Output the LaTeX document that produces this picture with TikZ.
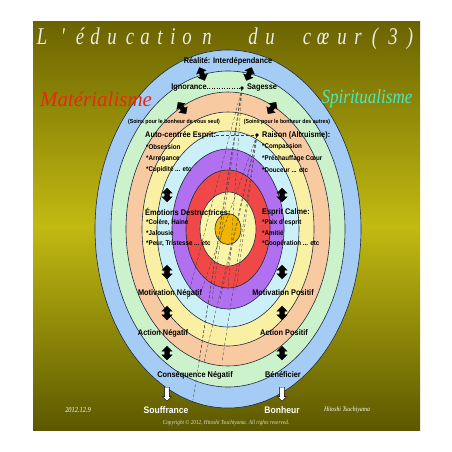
\documentclass[tikz,border=0pt]{standalone}
\usepackage{fontspec}
\setsansfont{Liberation Sans}[FakeStretch=0.9]
\newfontfamily\titlefont{Liberation Serif}[FakeStretch=0.78]
\newfontfamily\corsfont{Liberation Serif}[FakeStretch=0.85]
\newfontfamily\serifit{Liberation Serif}
\usetikzlibrary{shapes.arrows}
\definecolor{olivedark}{HTML}{6B6300}
\definecolor{olivemid}{HTML}{C2BA12}
\definecolor{oliveend}{HTML}{5C5800}
\definecolor{ringblue}{HTML}{A4CCF4}
\definecolor{ringgreen}{HTML}{CCF2CC}
\definecolor{ringpeach}{HTML}{F8CAA2}
\definecolor{ringyellow}{HTML}{FAF0A4}
\definecolor{ringcyan}{HTML}{CCF0F8}
\definecolor{ringpurple}{HTML}{B070F0}
\definecolor{ringred}{HTML}{F04848}
\definecolor{ringcream}{HTML}{FAF4A6}
\definecolor{ringgold}{HTML}{F2B400}
\definecolor{ringline}{HTML}{1C2C44}
\definecolor{matred}{HTML}{E82810}
\definecolor{spiaqua}{HTML}{4CE6C0}
\tikzset{
  ring/.style={draw=ringline, line width=0.6pt},
  stage/.style={font=\sffamily\bfseries\fontsize{8.2}{9}\selectfont, inner sep=0pt},
  item/.style={font=\sffamily\bfseries\fontsize{6.9}{8}\selectfont, inner sep=0pt, anchor=west},
  care/.style={font=\sffamily\bfseries\fontsize{5.8}{7}\selectfont, inner sep=0pt},
  goal/.style={font=\sffamily\bfseries\fontsize{9.5}{11}\selectfont, text=white, inner sep=0pt},
  updown/.style={double arrow, fill=black, draw=black, line width=0.3pt, minimum height=14pt,
    inner sep=2.2pt, double arrow head extend=2.8pt, rotate=90},
  outcome/.style={single arrow, fill=white, draw=black, line width=0.4pt, minimum height=14pt,
    inner sep=2.2pt, single arrow head extend=2.2pt, rotate=-90},
  beam/.style={densely dashed, line width=0.35pt, draw=black!75},
  sign/.style={font=\corsfont\itshape\fontsize{7.5}{9}\selectfont, text=white, inner sep=0pt},
  titlechar/.style={font=\titlefont\itshape\fontsize{24}{26}\selectfont, text=white!92!black, inner sep=0pt, anchor=base}
}
\begin{document}
\begin{tikzpicture}[x=1pt,y=-1pt]
  \useasboundingbox (0,0) rectangle (452,452);
  \fill[white] (0,0) rectangle (452,452);
  \shade[top color=olivedark, bottom color=oliveend, middle color=olivemid] (33,22) rectangle (420,430);

  % rings of the heart
  \foreach \rx/\ry/\col in {133/179/ringblue, 117/158/ringgreen, 102/137/ringpeach, 86/117/ringyellow,
      71/98/ringcyan, 56/80/ringpurple, 42/59/ringred, 28/37/ringcream, 13/15.5/ringgold}
    \filldraw[ring, fill=\col] (228,229) ellipse [x radius=\rx pt, y radius=\ry pt];

  % title
  \foreach \ch/\xx [count=\k] in {{L}/42, {'}/63, {é}/80, {d}/95, {u}/112, {c}/130, {a}/145, {t}/160,
      {i}/173, {o}/187, {n}/207, {d}/253, {u}/270, {c}/307, {œ}/323, {u}/342, {r}/358, {(}/375, {3}/393, {)}/410}
    \node[titlechar] (t\k) at (\xx,45) {\ch};

  \node[font=\serifit\itshape\fontsize{21}{24}\selectfont, text=matred, inner sep=0pt] (mat) at (96,99) {Matérialisme};
  \node[font=\corsfont\itshape\fontsize{20}{24}\selectfont, text=spiaqua, inner sep=0pt] (spi) at (367,99) {Spiritualisme};

  \node[stage] (real) at (228,61) {Réalité: Interdépendance};
  \node[stage] (ign) at (189,88) {Ignorance};
  \node[stage] (sage) at (262,88) {Sagesse};
  \node[care] (selfcare) at (174,122) {(Soins pour le bonheur de vous seul)};
  \node[care] (othercare) at (287,122) {(Soins pour le bonheur des autres)};

  \node[stage, anchor=west] (auto) at (145,135) {Auto-centrée Esprit:};
  \node[item] (ob) at (146,147) {*Obsession};
  \node[item] (ar) at (146,158.5) {*Arrogance};
  \node[item] (cu) at (146,170) {*Cupidité ... etc};
  \node[stage, anchor=west] (rai) at (262,135) {Raison (Altruisme):};
  \node[item] (co) at (262,147) {*Compassion};
  \node[item] (pr) at (262,158.5) {*Préchauffage Cœur};
  \node[item] (do) at (262,170) {*Douceur ... etc};

  \node[stage, anchor=west] (emo) at (145,212) {Émotions Destructrices:};
  \node[item] (ch) at (146,223) {*Colère, Haine};
  \node[item] (ja) at (146,233.5) {*Jalousie};
  \node[item] (pe) at (146,244) {*Peur, Tristesse ... etc};
  \node[stage, anchor=west] (calm) at (262,212) {Esprit Calme:};
  \node[item] (pa) at (262,223) {*Paix d'esprit};
  \node[item] (am) at (262,233.5) {*Amitié};
  \node[item] (cp) at (262,244) {*Coopération ... etc};

  \node[stage] (motn) at (170,293) {Motivation Négatif};
  \node[stage] (motp) at (283,293) {Motivation Positif};
  \node[stage] (actn) at (163,333) {Action Négatif};
  \node[stage] (actp) at (284,333) {Action Positif};
  \node[stage] (cons) at (195,375) {Conséquence Négatif};
  \node[stage] (bene) at (283,375) {Bénéficier};
  \node[goal] (souf) at (166,410) {Souffrance};
  \node[goal] (bonh) at (282,410) {Bonheur};

  \node[sign] (date) at (78,410) {2012.12.9};
  \node[sign, font=\corsfont\itshape\fontsize{6.8}{8}\selectfont] (auth) at (347,410) {Hitoshi Tsuchiyama};
  \node[sign, font=\corsfont\itshape\fontsize{6.2}{8}\selectfont, text=white!85!black] (copy) at (226,423)
    {Copyright © 2012, Hitoshi Tsuchiyama. All rights reserved.};

  % light of wisdom
  \coordinate (sagdot) at (242,88);
  \coordinate (raidot) at (257,135);
  \draw[dotted, line width=0.5pt] (ign.east) -- (sagdot);
  \draw[beam] (auto.east) -- (raidot);
  \foreach \ex/\ey in {193/400, 199/362, 187/300, 212/300, 228/290}
    \draw[beam] (sagdot) -- (\ex,\ey);
  \foreach \ex/\ey in {204/362, 222/362, 198/300, 220/300, 236/290}
    \draw[beam] (raidot) -- (\ex,\ey);
  \fill (sagdot) circle (1.8pt);
  \fill (raidot) circle (1.8pt);

  % arrows between stages
  \node[updown, rotate=22] (ua) at (202,74) {};
  \node[updown, rotate=-22] (ub) at (249,74) {};
  \node[updown, rotate=35] (uc) at (182,108) {};
  \node[updown, rotate=-35] (ud) at (272,108) {};
  \foreach \yy [count=\k] in {195,272,313,353} {
    \node[updown] (ln\k) at (167,\yy) {};
    \node[updown] (rn\k) at (282,\yy) {};
  }
  \node[outcome] (os) at (167,393) {};
  \node[outcome] (ob) at (282,393) {};
\end{tikzpicture}
\end{document}
